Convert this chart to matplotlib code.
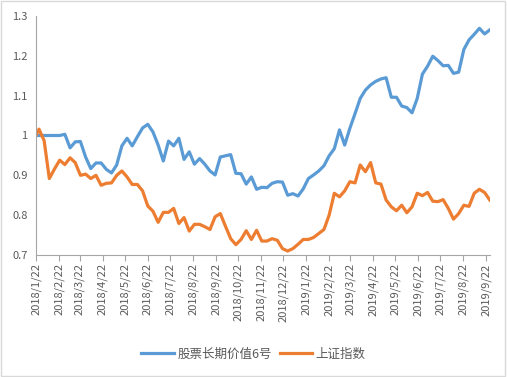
import pandas as pd
import matplotlib
matplotlib.use("Agg")
import matplotlib.pyplot as plt
from matplotlib.patches import Rectangle

plt.rcParams['font.family'] = ['Noto Sans CJK SC', 'DejaVu Sans']

# weekly observations: inception date, then every Friday
dates = [pd.Timestamp('2018-01-22')] + list(pd.date_range('2018-01-26', '2019-09-27', freq='7D'))

fund = [1.000,
        1.000, 1.000, 1.000, 1.000, 1.000, 1.003, 0.969, 0.984, 0.985, 0.946,
        0.917, 0.931, 0.931, 0.915, 0.906, 0.926, 0.974, 0.993, 0.974, 0.997,
        1.019, 1.028, 1.009, 0.976, 0.936, 0.986, 0.974, 0.993, 0.940, 0.959,
        0.928, 0.942, 0.928, 0.911, 0.901, 0.946, 0.949, 0.952, 0.905, 0.904,
        0.878, 0.896, 0.865, 0.870, 0.869, 0.880, 0.884, 0.883, 0.850, 0.854,
        0.848, 0.866, 0.892, 0.901, 0.911, 0.924, 0.949, 0.967, 1.014, 0.976,
        1.018, 1.055, 1.093, 1.114, 1.127, 1.136, 1.142, 1.145, 1.096, 1.096,
        1.074, 1.070, 1.057, 1.093, 1.154, 1.174, 1.199, 1.188, 1.175, 1.176,
        1.156, 1.159, 1.216, 1.240, 1.254, 1.269, 1.255, 1.265]

index = [1.000,
         1.016, 0.987, 0.892, 0.916, 0.938, 0.927, 0.944, 0.932, 0.900, 0.903,
         0.892, 0.900, 0.875, 0.880, 0.881, 0.900, 0.911, 0.896, 0.877, 0.877,
         0.861, 0.823, 0.810, 0.782, 0.807, 0.807, 0.817, 0.779, 0.794, 0.760,
         0.777, 0.777, 0.771, 0.764, 0.796, 0.804, 0.772, 0.741, 0.726, 0.739,
         0.761, 0.739, 0.762, 0.735, 0.735, 0.741, 0.737, 0.716, 0.710, 0.716,
         0.727, 0.739, 0.739, 0.744, 0.754, 0.764, 0.800, 0.855, 0.846, 0.861,
         0.884, 0.881, 0.926, 0.909, 0.932, 0.881, 0.878, 0.838, 0.821, 0.811,
         0.825, 0.806, 0.821, 0.855, 0.849, 0.857, 0.835, 0.834, 0.839, 0.817,
         0.790, 0.804, 0.825, 0.822, 0.855, 0.865, 0.857, 0.838]

names = ['股票长期价值6号', '上证指数']
colors = ['#5B9BD5', '#ED7D31']

fig = plt.figure(figsize=(5.07, 3.77), dpi=100)
fig.patches.append(Rectangle((0.002, 0.003), 0.995, 0.994, transform=fig.transFigure,
                             fill=False, edgecolor='#d9d9d9', linewidth=1))
ax = fig.add_axes([0.071, 0.3236, 0.895, 0.634])

ax.plot(dates, fund, color=colors[0], lw=2.3, label=names[0], solid_joinstyle='round')
ax.plot(dates, index, color=colors[1], lw=2.3, label=names[1], solid_joinstyle='round')

ax.set_ylim(0.7, 1.3)
ax.set_yticks([0.7, 0.8, 0.9, 1.0, 1.1, 1.2, 1.3])
ax.set_yticklabels(['0.7', '0.8', '0.9', '1', '1.1', '1.2', '1.3'])
ax.set_xlim(dates[0], dates[-1])

# month ticks on the 22nd
ticks = pd.date_range('2018-01-01', '2019-09-01', freq='MS') + pd.Timedelta(days=21)
ax.set_xticks(ticks)
ax.set_xticklabels([f'{d.year}/{d.month}/{d.day}' for d in ticks], rotation=90)

for s in ['top', 'right']:
    ax.spines[s].set_visible(False)
ax.spines['left'].set_color('#a6a6a6')
ax.spines['bottom'].set_color('#a6a6a6')
ax.tick_params(axis='y', length=0, labelsize=8, labelcolor='#595959', pad=6)
ax.tick_params(axis='x', length=4, color='#a6a6a6', labelsize=8, labelcolor='#595959', pad=2)

fig.legend(loc='center', bbox_to_anchor=(0.5, 0.061), ncol=2, frameon=False,
           fontsize=9, handlelength=2.6, columnspacing=0.6, handletextpad=0.3,
           labelcolor='#595959')

fig.savefig('out.png', dpi=100)
